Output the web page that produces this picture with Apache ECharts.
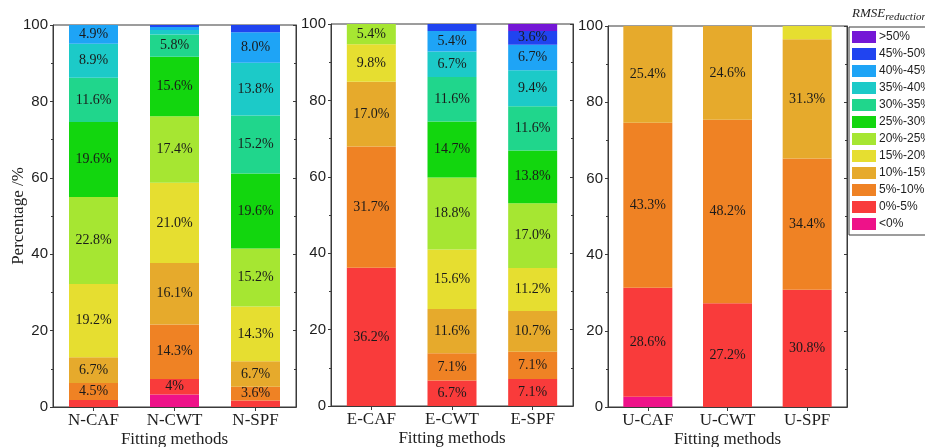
<!DOCTYPE html>
<html>
<head>
<meta charset="utf-8">
<script src="https://cdn.jsdelivr.net/npm/echarts@6/dist/echarts.min.js"></script>
<style>
  html, body { margin: 0; padding: 0; background: #fff; }
  #chart { width: 925px; height: 447px; }
</style>
</head>
<body>
<div id="chart"></div>
<script>
// Fitting methods, three per panel (N-, E-, U- groups)
const methods = ['N-CAF', 'N-CWT', 'N-SPF', 'E-CAF', 'E-CWT', 'E-SPF', 'U-CAF', 'U-CWT', 'U-SPF'];

// RMSE reduction classes, stacked from the bottom up
const bands = ['<0%', '0%-5%', '5%-10%', '10%-15%', '15%-20%', '20%-25%',
               '25%-30%', '30%-35%', '35%-40%', '40%-45%', '45%-50%', '>50%'];

// Share (%) of each class for every method, in the order of `methods`
const bandNeg     = [0,    3.3,  0,    0,    0,    0,    2.7,  0,    0];
const band0to5    = [1.8,  4,    1.7,  36.2, 6.7,  7.1,  28.6, 27.2, 30.8];
const band5to10   = [4.5,  14.3, 3.6,  31.7, 7.1,  7.1,  43.3, 48.2, 34.4];
const band10to15  = [6.7,  16.1, 6.7,  17.0, 11.6, 10.7, 25.4, 24.6, 31.3];
const band15to20  = [19.2, 21.0, 14.3, 9.8,  15.6, 11.2, 0,    0,    3.5];
const band20to25  = [22.8, 17.4, 15.2, 5.4,  18.8, 17.0, 0,    0,    0];
const band25to30  = [19.6, 15.6, 19.6, 0,    14.7, 13.8, 0,    0,    0];
const band30to35  = [11.6, 5.8,  15.2, 0,    11.6, 11.6, 0,    0,    0];
const band35to40  = [8.9,  1.2,  13.8, 0,    6.7,  9.4,  0,    0,    0];
const band40to45  = [4.9,  0.8,  8.0,  0,    5.4,  6.7,  0,    0,    0];
const band45to50  = [0,    0.5,  1.9,  0,    1.8,  3.6,  0,    0,    0];
const bandOver50  = [0,    0,    0,    0,    0,    1.8,  0,    0,    0];

const bandValues = [bandNeg, band0to5, band5to10, band10to15, band15to20, band20to25,
                    band25to30, band30to35, band35to40, band40to45, band45to50, bandOver50];

// Percentage axis ticks
const yTicks = { min: 0, max: 100, step: 20 };

// Labels that are printed without a decimal place
const integerLabels = ['N-CWT|0%-5%'];

const bandColors = ['#ee1289', '#f93b3b', '#ef8224', '#e6aa2c', '#e6de30', '#a6e632',
                    '#12d60e', '#20d68c', '#1ccac8', '#1ea4f6', '#2044f0', '#7417d6'];

const serif = '"Liberation Serif", "Times New Roman", serif';
const sans = '"Liberation Sans", Arial, sans-serif';

const panels = [
  { left: 53,  top: 25, width: 243, height: 382, yName: 'Percentage /%' },
  { left: 331, top: 24, width: 242, height: 382, yName: '' },
  { left: 608, top: 26, width: 239, height: 381, yName: '' }
];

const grid = [], xAxis = [], yAxis = [], series = [];

panels.forEach((p, pi) => {
  const cats = methods.slice(pi * 3, pi * 3 + 3);
  grid.push({
    left: p.left, top: p.top, width: p.width, height: p.height,
    outerBoundsMode: 'none', containLabel: false,
    show: true, borderColor: '#3a3a3a', borderWidth: 1, backgroundColor: 'transparent'
  });
  // bottom category axis
  xAxis.push({
    type: 'category', gridIndex: pi, data: cats, position: 'bottom',
    axisLine: { show: true, lineStyle: { color: '#3a3a3a', width: 1 } },
    axisTick: { show: true, inside: true, length: 4, alignWithLabel: true, lineStyle: { color: '#3a3a3a' } },
    axisLabel: { fontFamily: serif, fontSize: 17, color: '#1e1e1e', margin: 5 },
    name: 'Fitting methods', nameLocation: 'middle', nameGap: 24, nameMoveOverlap: false,
    nameTextStyle: { fontFamily: serif, fontSize: 17, color: '#1e1e1e' }
  });
  // top frame axis with ticks
  xAxis.push({
    type: 'category', gridIndex: pi, data: cats, position: 'top',
    axisLine: { show: true, lineStyle: { color: '#3a3a3a', width: 1 } },
    axisTick: { show: true, inside: true, length: 4, alignWithLabel: true, lineStyle: { color: '#3a3a3a' } },
    axisLabel: { show: false }
  });
  // left value axis
  yAxis.push({
    type: 'value', gridIndex: pi, min: yTicks.min, max: yTicks.max, interval: yTicks.step,
    position: 'left',
    axisLine: { show: true, lineStyle: { color: '#3a3a3a', width: 1 } },
    axisTick: { show: true, length: 3, lineStyle: { color: '#3a3a3a' } },
    minorTick: { show: true, splitNumber: 2, length: 2, lineStyle: { color: '#3a3a3a' } },
    splitLine: { show: false },
    axisLabel: { fontFamily: sans, fontSize: 15, color: '#1e1e1e', margin: 5 },
    name: p.yName, nameLocation: 'middle', nameGap: 26, nameRotate: 90, nameMoveOverlap: false,
    nameTextStyle: { fontFamily: serif, fontSize: 17, color: '#1e1e1e' }
  });
  // right value axis (frame ticks only)
  yAxis.push({
    type: 'value', gridIndex: pi, min: yTicks.min, max: yTicks.max, interval: yTicks.step,
    position: 'right',
    axisLine: { show: true, lineStyle: { color: '#3a3a3a', width: 1 } },
    axisTick: { show: true, inside: true, length: 3, lineStyle: { color: '#3a3a3a' } },
    minorTick: { show: true, splitNumber: 2, length: 2, lineStyle: { color: '#3a3a3a' } },
    splitLine: { show: false },
    axisLabel: { show: false }
  });

  bands.forEach((band, bi) => {
    series.push({
      type: 'bar',
      name: band,
      stack: 'panel' + pi,
      xAxisIndex: pi * 2,
      yAxisIndex: pi * 2,
      barWidth: 49,
      data: bandValues[bi].slice(pi * 3, pi * 3 + 3),
      itemStyle: { color: bandColors[bi] },
      label: {
        show: true,
        position: 'inside',
        fontFamily: serif,
        fontSize: 14,
        color: '#1a1a1a',
        formatter: (params) => {
          const v = params.value;
          if (v < 3.6) return '';
          return integerLabels.includes(params.name + '|' + params.seriesName)
            ? v + '%' : v.toFixed(1) + '%';
        }
      },
      emphasis: { disabled: true },
      animation: false
    });
  });
});

const chart = echarts.init(document.getElementById('chart'), null, { renderer: 'canvas' });
chart.setOption({
  animation: false,
  backgroundColor: '#ffffff',
  grid, xAxis, yAxis, series,
  legend: {
    orient: 'vertical',
    left: 849, top: 27,
    data: bands.slice().reverse(),
    itemWidth: 24, itemHeight: 12, itemGap: 5,
    padding: [4, 8, 5, 3],
    borderColor: '#3a3a3a', borderWidth: 1,
    icon: 'rect',
    selectedMode: false,
    textStyle: { fontFamily: sans, fontSize: 12, color: '#1e1e1e', padding: [0, 0, 0, -2] }
  },
  graphic: [{
    type: 'text',
    left: 852, top: 7,
    style: {
      text: '{a|RMSE}{b|reduction}',
      rich: {
        a: { fontFamily: serif, fontStyle: 'italic', fontSize: 13, fill: '#1e1e1e' },
        b: { fontFamily: serif, fontStyle: 'italic', fontSize: 11, fill: '#1e1e1e', padding: [7, 0, 0, 0] }
      }
    }
  }]
});
</script>
</body>
</html>
